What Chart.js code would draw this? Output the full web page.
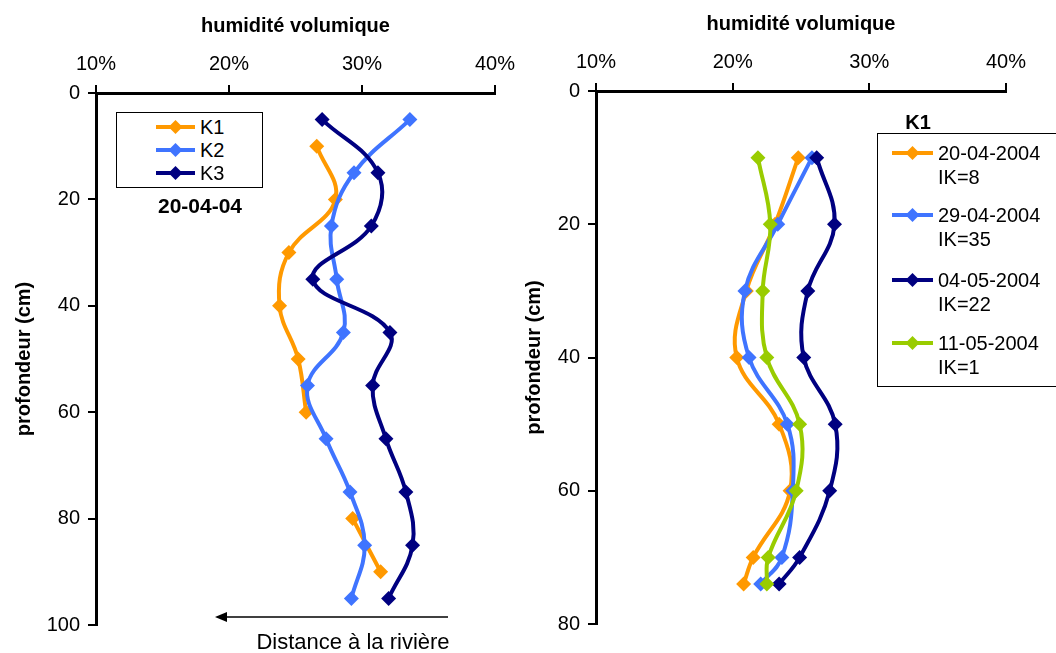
<!DOCTYPE html>
<html>
<head>
<meta charset="utf-8">
<script src="https://cdn.jsdelivr.net/npm/chart.js@4/dist/chart.umd.min.js"></script>
<style>
  html, body { margin: 0; padding: 0; background: #fff; }
  body { width: 1056px; height: 653px; position: relative; overflow: hidden; font-family: "Liberation Sans", Arial, sans-serif; }
  .box { position: absolute; }
  .lg { position: absolute; border: 1px solid #000; background: #fff; }
  .item { position: absolute; display: flex; align-items: center; color: #000; white-space: nowrap; }
  .txt { position: absolute; color: #000; white-space: nowrap; }
</style>
</head>
<body>
<div class="box" style="left:0;top:0;width:540px;height:653px"><canvas id="c1"></canvas></div>
<div class="box" style="left:518px;top:0;width:538px;height:653px"><canvas id="c2"></canvas></div>
<div id="overlay"></div>
<script>
// ---------- Data ----------
const xTicksLabel = '%';
// Left chart (20-04-04): K1, K2, K3
const leftSeriesNames = ['K1', 'K2', 'K3'];
const depthK1 = [10, 20, 30, 40, 50, 60, 70, 80, 90];
const humK1   = [26.6, 28.0, 24.5, 23.8, 25.2, 25.8, null, 29.3, 31.4];
const depthK2 = [5, 15, 25, 35, 45, 55, 65, 75, 85, 95];
const humK2   = [33.6, 29.4, 27.7, 28.1, 28.6, 25.9, 27.3, 29.1, 30.2, 29.2];
const depthK3 = [5, 15, 25, 35, 45, 55, 65, 75, 85, 95];
const humK3   = [27.0, 31.2, 30.7, 26.3, 32.1, 30.8, 31.8, 33.3, 33.8, 32.0];

// Right chart (K1): four dates
const rightSeriesDates = ['20-04-2004', '29-04-2004', '04-05-2004', '11-05-2004'];
const rightSeriesIK = ['IK=8', 'IK=35', 'IK=22', 'IK=1'];
const depthRight = [10, 20, 30, 40, 50, 60, 70, 74];
const hum20_04 = [24.8, 23.1, 21.0, 20.3, 23.4, 24.2, 21.5, 20.8];
const hum29_04 = [25.8, 23.3, 20.9, 21.2, 24.0, 24.4, 23.6, 22.05];
const hum04_05 = [26.15, 27.45, 25.5, 25.2, 27.5, 27.1, 24.9, 23.4];
const hum11_05 = [21.85, 22.75, 22.2, 22.5, 24.9, 24.65, 22.6, 22.5];

const xAxisTitle = 'humidité volumique';
const yAxisTitle = 'profondeur (cm)';
const leftNote = '20-04-04';
const rightNote = 'K1';
const arrowText = 'Distance à la rivière';

// ---------- Styles ----------
const ORANGE = '#FF9900', BLUE = '#3F74FF', NAVY = '#000080', GREEN = '#99CC00';
const FONT = '"Liberation Sans", Arial, sans-serif';

function pts(depths, vals) {
  return depths.map((d, i) => ({ x: vals[i] === null ? null : vals[i], y: d }));
}
function ds(label, depths, vals, color, order) {
  return {
    label, data: pts(depths, vals), borderColor: color, backgroundColor: color,
    pointStyle: 'rectRot', pointRadius: 7.5, pointHoverRadius: 7.5, borderWidth: 4,
    pointBorderWidth: 0, showLine: true, tension: 0.4, spanGaps: false, order
  };
}

function fixedScales(yMax, yWidth, xHeight) {
  return {
    x: {
      type: 'linear', position: 'top', min: 10, max: 40,
      afterFit: s => { s.height = xHeight; },
      ticks: { stepSize: 10, color: '#000', font: { family: FONT, size: 20 }, padding: 9,
               callback: v => v + xTicksLabel },
      grid: { display: true, drawOnChartArea: false, drawTicks: true, tickLength: 8, color: '#000', lineWidth: 2 },
      border: { display: true, color: '#000', width: 3 },
      title: { display: true, text: xAxisTitle, color: '#000', font: { family: FONT, size: 20, weight: 'bold' }, padding: { top: 4, bottom: 4 } }
    },
    y: {
      type: 'linear', position: 'left', reverse: true, min: 0, max: yMax,
      afterFit: s => { s.width = yWidth; },
      ticks: { stepSize: 20, color: '#000', font: { family: FONT, size: 20 }, padding: 8 },
      grid: { display: true, drawOnChartArea: false, drawTicks: true, tickLength: 8, color: '#000', lineWidth: 2 },
      border: { display: true, color: '#000', width: 3 },
      title: { display: true, text: yAxisTitle, color: '#000', font: { family: FONT, size: 20, weight: 'bold' }, padding: { top: 4, bottom: 4 } }
    }
  };
}

const commonPlugins = { legend: { display: false }, tooltip: { enabled: false } };

new Chart(document.getElementById('c1'), {
  type: 'scatter',
  data: { datasets: [
    ds(leftSeriesNames[0], depthK1, humK1, ORANGE, 3),
    ds(leftSeriesNames[1], depthK2, humK2, BLUE, 2),
    ds(leftSeriesNames[2], depthK3, humK3, NAVY, 1)
  ]},
  options: {
    responsive: true, maintainAspectRatio: false, animation: false,
    layout: { padding: { left: 8, top: 10, right: 45, bottom: 28 } },
    scales: fixedScales(100, 88, 83),
    plugins: commonPlugins
  }
});

new Chart(document.getElementById('c2'), {
  type: 'scatter',
  data: { datasets: [
    ds(rightSeriesDates[0], depthRight, hum20_04, ORANGE, 4),
    ds(rightSeriesDates[1], depthRight, hum29_04, BLUE, 3),
    ds(rightSeriesDates[2], depthRight, hum04_05, NAVY, 2),
    ds(rightSeriesDates[3], depthRight, hum11_05, GREEN, 1)
  ]},
  options: {
    responsive: true, maintainAspectRatio: false, animation: false,
    layout: { padding: { left: 0, top: 8, right: 50, bottom: 29 } },
    scales: fixedScales(80, 78, 83),
    plugins: commonPlugins
  }
});

// ---------- HTML legends & annotations ----------
const ov = document.getElementById('overlay');
function icon(color, w) {
  return `<svg width="${w}" height="16" style="margin-right:5px"><line x1="0" y1="8" x2="${w}" y2="8" stroke="${color}" stroke-width="4"/><polygon points="${w/2-7},8 ${w/2},1 ${w/2+7},8 ${w/2},15" fill="${color}"/></svg>`;
}
let html = '';
// left legend
html += `<div class="lg" style="left:116px;top:112px;width:145px;height:74px"></div>`;
const leftColors = [ORANGE, BLUE, NAVY];
[127, 150, 173].forEach((y, i) => {
  html += `<div class="item" style="left:156px;top:${y-11}px;height:22px;font-size:20px">${icon(leftColors[i], 39)}<span>${leftSeriesNames[i]}</span></div>`;
});
html += `<div class="txt" style="left:145px;top:194px;width:110px;text-align:center;font-size:21px;font-weight:bold">${leftNote}</div>`;
// arrow
html += `<svg style="position:absolute;left:210px;top:607px" width="245" height="20"><line x1="14" y1="10" x2="238" y2="10" stroke="#000" stroke-width="1.5"/><polygon points="5,10 17,5 17,15" fill="#000"/></svg>`;
html += `<div class="txt" style="left:200px;top:629px;width:306px;text-align:center;font-size:22px">${arrowText}</div>`;
// right legend
html += `<div class="txt" style="left:898px;top:111px;width:40px;text-align:center;font-size:20px;font-weight:bold">${rightNote}</div>`;
html += `<div class="lg" style="left:877px;top:133px;width:200px;height:252px"></div>`;
const rightColors = [ORANGE, BLUE, NAVY, GREEN];
[153, 215, 280, 343].forEach((y, i) => {
  html += `<div class="item" style="left:892px;top:${y-12}px;height:24px;font-size:20px">${icon(rightColors[i], 41)}<span>${rightSeriesDates[i]}</span></div>`;
  html += `<div class="txt" style="left:938px;top:${y+12}px;font-size:20px;line-height:24px">${rightSeriesIK[i]}</div>`;
});
ov.innerHTML = html;
</script>
</body>
</html>
